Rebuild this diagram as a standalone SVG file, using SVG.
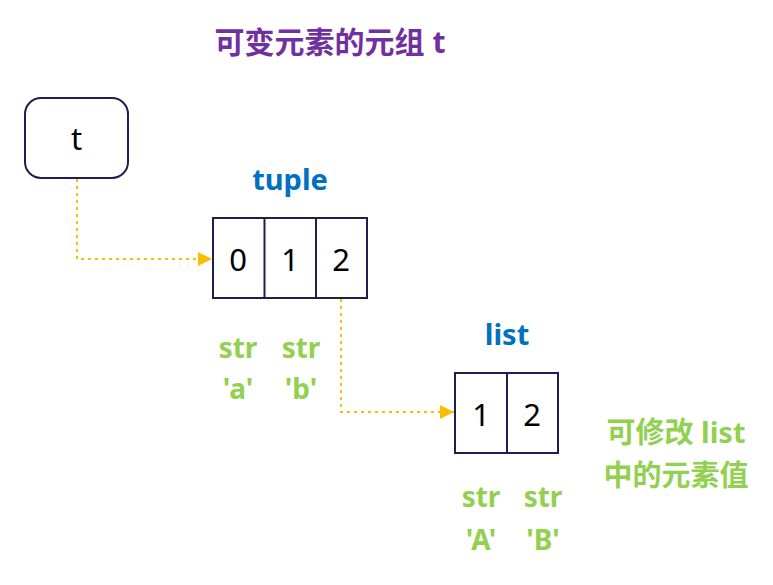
<svg xmlns="http://www.w3.org/2000/svg" width="773" height="585" viewBox="0 0 773 585">
<defs>
<style>
.box{fill:#fff;stroke:#1c1f4f;stroke-width:2}
.cell{font-family:"Noto Sans","Open Sans",sans-serif;font-size:31px;fill:#000;text-anchor:middle}
.title{font-family:"Noto Sans","Noto Sans CJK SC",sans-serif;font-weight:bold;font-size:30px;fill:#7030a0;text-anchor:middle}
.type{font-family:"Noto Sans","Open Sans",sans-serif;font-weight:bold;font-size:29px;fill:#0070c0;text-anchor:middle}
.str{font-family:"Noto Sans","Noto Sans CJK SC",sans-serif;font-weight:bold;font-size:28px;fill:#92d050;text-anchor:middle}
.cjk{font-family:"Noto Sans","Noto Sans CJK SC",sans-serif;font-weight:bold;font-size:29px;fill:#92d050;text-anchor:middle}
.conn{fill:none;stroke:#f8bf00;stroke-width:2;stroke-dasharray:3 4}
</style>
<marker id="arr" viewBox="0 0 10 10" refX="10" refY="5" markerWidth="14" markerHeight="14" markerUnits="userSpaceOnUse" orient="auto">
<path d="M0,0 L10,5 L0,10 z" fill="#f8bf00"/>
</marker>
</defs>
<text class="title" x="330" y="53">可变元素的元组 t</text>
<g id="connectors">
<path class="conn" d="M77,179 V259 H212" marker-end="url(#arr)"/>
<path class="conn" d="M341,299 V412 H454" marker-end="url(#arr)"/>
</g>
<g id="t">
<rect class="box" x="25" y="98" width="103" height="80" rx="16"/>
<text class="cell" x="76.500" y="150">t</text>
</g>
<g id="tuple">
<text class="type" x="290" y="190">tuple</text>
<rect class="box" x="213" y="218" width="154" height="80"/>
<line class="box" x1="264.500" y1="218" x2="264.500" y2="298"/>
<line class="box" x1="316" y1="218" x2="316" y2="298"/>
<text class="cell" x="238" y="271">0</text>
<text class="cell" x="290" y="271">1</text>
<text class="cell" x="341" y="271">2</text>
</g>
<g id="list">
<text class="type" x="507" y="345">list</text>
<rect class="box" x="455" y="373" width="103" height="80"/>
<line class="box" x1="507" y1="373" x2="507" y2="453"/>
<text class="cell" x="481" y="426">1</text>
<text class="cell" x="532" y="426">2</text>
</g>
<g id="labels">
<text class="str" x="238" y="358">str</text>
<text class="str" x="238" y="399">'a'</text>
<text class="str" x="301" y="358">str</text>
<text class="str" x="301" y="399">'b'</text>
<text class="str" x="481" y="507">str</text>
<text class="str" x="481" y="550">'A'</text>
<text class="str" x="543" y="507">str</text>
<text class="str" x="543" y="550">'B'</text>
<text class="cjk" x="676" y="443">可修改 list</text>
<text class="cjk" x="676" y="486">中的元素值</text>
</g>
</svg>
